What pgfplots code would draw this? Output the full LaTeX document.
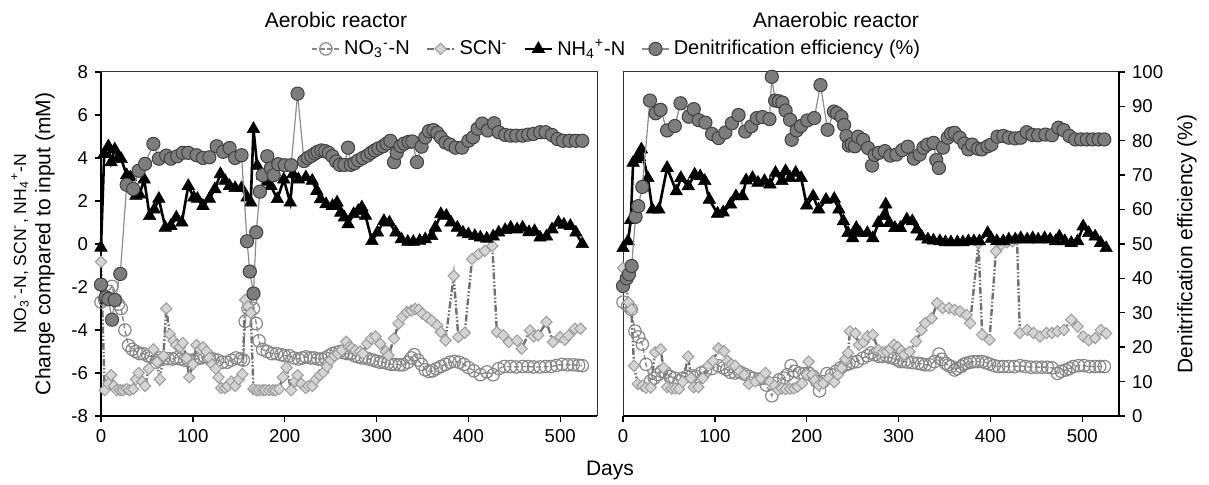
\documentclass[border=0pt]{standalone}
\usepackage{fontspec}
\setmainfont{Liberation Sans}
\usepackage{pgfplots}
\pgfplotsset{compat=1.18}

\definecolor{effill}{RGB}{125,125,125}
\definecolor{efline}{RGB}{140,140,140}
\definecolor{no3c}{RGB}{135,135,135}
\definecolor{scnfill}{RGB}{212,212,212}
\definecolor{scnedge}{RGB}{155,155,155}
\definecolor{scnline}{RGB}{112,112,112}

\pgfplotsset{
  panel/.style={
    scale only axis, width=248pt, height=172pt,
    xmin=0, xmax=540, anchor=north west, clip=false,
    xtick={0,100,...,500},
    tick align=outside, major tick length=3pt,
    tick style={black, line width=0.7pt},
    axis line style={line width=0.5pt, black!80},
    ticklabel style={font=\fontsize{9.3}{10}\selectfont},
    /pgf/number format/assume math mode=true,
  },
  no3/.style={no3c, line width=0.7pt, dash pattern=on 2.5pt off 1.2pt,
    mark=o, mark size=3.1pt, mark options={solid, draw=no3c, line width=0.6pt}},
  scn/.style={scnline, line width=1.2pt,
    dash pattern=on 3.5pt off 1pt on 0.8pt off 1pt on 0.8pt off 1pt,
    mark=square*, mark size=2pt,
    mark options={solid, rotate=45, fill=scnfill, draw=scnedge, line width=0.5pt}},
  nh4/.style={black, line width=1.3pt, mark=triangle*, mark size=3.6pt,
    mark options={solid, fill=black, line width=0.3pt}},
  eff/.style={efline, line width=0.6pt, mark=*, mark size=3.3pt,
    mark options={solid, fill=effill, draw=black!75, line width=0.5pt}},
}

\begin{document}
\begin{tikzpicture}
\path[use as bounding box] (0,0) rectangle (604.5pt,-242.5pt);

% ---------------- Aerobic reactor ----------------
\begin{axis}[panel, at={(50.5pt,-36pt)},
    ymin=-8, ymax=8, ytick={-8,-6,...,8},
    xtick pos=left, ytick pos=left]
\addplot[no3] coordinates {
(0,-2.7) (4,-2.6) (8,-2.2) (12,-1.97) (16,-2.6) (19,-2.8) (22,-3.0) (26,-4.0)
(30,-4.72) (34,-4.9) (38,-5.0) (42,-5.1) (46,-5.1) (51,-5.2) (55,-5.25) (60,-5.5)
(64,-5.3) (68,-5.35) (73,-5.33) (78,-5.35) (82,-5.3) (87,-5.35) (91,-5.4) (95,-5.4)
(100,-5.4) (104,-5.35) (109,-5.3) (113,-5.25) (118,-5.3) (122,-5.35) (127,-5.4)
(132,-5.5) (137,-5.5) (142,-5.4) (147,-5.3) (152,-5.35) (155,-5.4) (157,-3.6)
(160,-3.0) (163,-2.6) (166,-3.0) (169,-3.7) (172,-4.5) (176,-4.9) (181,-5.0)
(186,-5.1) (191,-5.1) (196,-5.15) (200,-5.2) (205,-5.2) (210,-5.3) (215,-5.35)
(219,-5.3) (223,-5.25) (228,-5.3) (232,-5.3) (236,-5.35) (240,-5.35) (244,-5.3)
(248,-5.2) (252,-5.1) (256,-5.05) (260,-5.0) (264,-5.05) (268,-5.1) (272,-5.1)
(276,-5.2) (280,-5.25) (284,-5.3) (288,-5.3) (292,-5.35) (296,-5.4) (300,-5.45)
(304,-5.5) (308,-5.5) (312,-5.55) (316,-5.6) (320,-5.6) (325,-5.62) (329,-5.62)
(334,-5.5) (338,-5.3) (341,-5.15) (345,-5.4) (349,-5.6) (353,-5.85) (357,-5.93)
(361,-5.9) (365,-5.8) (370,-5.7) (375,-5.6) (380,-5.5) (385,-5.46) (390,-5.5)
(395,-5.6) (400,-5.75) (406,-5.9) (413,-6.08) (420,-5.95) (427,-6.08) (433,-5.8)
(439,-5.7) (446,-5.7) (452,-5.72) (459,-5.7) (465,-5.7) (471,-5.72) (478,-5.72)
(484,-5.7) (490,-5.7) (496,-5.65) (502,-5.6) (508,-5.62) (514,-5.62) (520,-5.64)
(524,-5.66)
};
\addplot[scn] coordinates {
(0,-0.83) (4,-6.8) (8,-6.5) (11,-6.1) (14,-6.6) (17,-6.8) (21,-6.8) (24,-6.8)
(28,-6.75) (31,-6.8) (35,-6.75) (38,-6.3) (41,-6.0) (45,-6.4) (48,-6.6) (52,-5.8)
(57,-4.9) (61,-5.5) (64,-6.3) (68,-5.2) (71,-3.0) (75,-4.2) (79,-4.5) (82,-4.7)
(86,-4.8) (89,-4.6) (93,-5.3) (96,-6.2) (100,-5.6) (104,-4.7) (108,-4.9) (111,-4.8)
(115,-5.0) (118,-5.3) (121,-5.6) (125,-5.8) (128,-6.2) (131,-6.7) (135,-6.7)
(138,-6.6) (142,-6.4) (146,-6.6) (150,-6.3) (154,-6.05) (157,-2.6) (160,-2.9)
(163,-3.2) (166,-6.75) (169,-6.8) (172,-6.8) (176,-6.8) (179,-6.8) (183,-6.8)
(187,-6.8) (190,-6.8) (194,-6.75) (198,-6.2) (202,-5.75) (207,-6.8) (211,-6.4)
(214,-6.1) (218,-6.5) (223,-6.7) (226,-6.6) (230,-6.6) (234,-6.3) (238,-6.1)
(242,-5.97) (246,-5.7) (250,-5.4) (254,-5.2) (258,-5.1) (262,-4.95) (267,-4.55)
(270,-4.8) (273,-4.85) (277,-4.95) (282,-5.0) (285,-5.1) (290,-4.64) (294,-4.4)
(299,-4.3) (304,-4.64) (310,-5.0) (313,-5.18) (319,-4.4) (324,-3.7) (328,-3.4)
(333,-3.17) (338,-3.1) (342,-3.02) (346,-3.05) (350,-3.25) (355,-3.4) (360,-3.56)
(366,-3.79) (370,-4.1) (375,-4.49) (384,-1.48) (389,-4.33) (396,-4.13) (404,-0.7)
(411,-0.47) (418,-0.32) (426,-0.09) (431,-4.1) (438,-4.25) (444,-4.56) (453,-4.49)
(458,-4.87) (467,-4.02) (471,-4.3) (476,-4.25) (485,-3.63) (492,-4.56) (500,-4.33)
(505,-4.45) (509,-4.25) (516,-3.94) (522,-3.94)
};
\addplot[nh4] coordinates {
(0,-0.17) (3.5,4.19) (8,4.54) (11,3.8) (15,4.4) (19,4.03) (22,3.95) (28,3.2)
(32,3.1) (38,2.24) (42,2.3) (47,3.0) (53,1.3) (58,1.6) (63,2.1) (70,0.76) (76,0.84)
(82,1.23) (88,1.0) (95,2.7) (101,2.16) (105,2.1) (111,1.77) (118,2.1) (124,2.55)
(130,3.25) (135,2.94) (140,2.7) (146,2.6) (153,2.6) (159,2.16) (163,1.93)
(166,5.35) (170,3.64) (176,3.17) (181,2.9) (185,2.7) (192,2.09) (199,3.0)
(206,1.93) (209,3.25) (215,3.0) (223,3.1) (230,2.94) (235,2.47) (239,2.08)
(245,1.85) (252,1.77) (257,1.93) (261,1.46) (265,1.23) (269,0.92) (275,1.39)
(280,1.54) (284,1.7) (288,1.31) (295,0.14) (301,0.53) (308,1.07) (314,1.0)
(321,0.53) (327,0.22) (334,0.1) (340,0.1) (347,0.15) (353,0.22) (360,0.37)
(364,0.76) (370,1.39) (376,1.31) (381,1.0) (388,0.76) (394,0.53) (400,0.45)
(407,0.37) (413,0.3) (420,0.25) (427,0.35) (433,0.53) (440,0.65) (446,0.76)
(453,0.68) (459,0.76) (466,0.55) (472,0.6) (478,0.3) (485,0.35) (491,0.68)
(498,1.0) (504,0.9) (511,0.84) (517,0.53) (524,0.0)
};
\draw[line width=1.2pt] (rel axis cs:0,1) -- (rel axis cs:0,0) -- (rel axis cs:1,0);
\end{axis}

\begin{axis}[panel, at={(50.5pt,-36pt)}, hide axis, ymin=0, ymax=100,
    legend columns=4,
    legend style={draw=none, fill=none, at={(1.042,1.067)}, anchor=center,
      font=\fontsize{10}{12}\selectfont,
      /tikz/every even column/.append style={column sep=6pt}},
    legend image code/.code={\draw[mark repeat=2, mark phase=2, #1]
      plot coordinates {(0cm,0cm) (0.24cm,0cm) (0.48cm,0cm)};}]
\addlegendimage{no3}
\addlegendimage{scn}
\addlegendimage{nh4}
\addplot[eff] coordinates {
(0,38.2) (5,34.5) (8,34.0) (12,28.0) (15,33.7) (21,41.3) (28,67.2) (35,66.0)
(41,71.3) (48,73.3) (57,79.1) (63,74.8) (71,75.7) (76,74.8) (83,75.5) (89,76.5)
(95,76.5) (104,75.8) (111,75.0) (118,75.2) (126,78.4) (133,76.8) (140,77.9)
(146,75.0) (153,75.8) (159,50.8) (162,42.0) (166,35.6) (169,53.4) (173,65.2)
(176,70.0) (181,75.5) (185,72.0) (188,70.0) (193,73.2) (200,72.9) (207,72.9)
(214,93.7) (221,74.1) (225,75.0) (229,75.6) (233,76.3) (236,76.8) (240,77.2)
(244,77.0) (248,76.5) (252,75.5) (256,74.0) (260,73.0) (265,73.0) (269,78.0)
(272,73.0) (276,73.5) (280,74.3) (285,75.0) (290,75.7) (294,76.5) (298,77.2)
(302,77.8) (307,78.4) (311,79.2) (315,80.0) (319,73.8) (322,76.5) (326,78.5)
(330,79.2) (335,79.7) (339,79.8) (344,73.8) (349,78.3) (353,81.0) (357,82.8)
(362,83.1) (366,82.3) (370,81.0) (375,79.5) (380,78.9) (386,78.0) (393,78.0)
(400,80.0) (405,81.0) (410,83.5) (415,85.0) (421,83.0) (428,85.1) (433,82.5)
(440,81.7) (446,81.5) (452,81.5) (459,81.5) (465,81.8) (471,82.0) (478,82.5)
(484,82.5) (491,81.7) (497,80.5) (503,80.0) (510,80.0) (517,80.0) (524,80.0)
};
\legend{NO\textsubscript{3}\textsuperscript{-}-N, SCN\textsuperscript{-},
  NH\textsubscript{4}\textsuperscript{+}-N, Denitrification efficiency (\%)}
\end{axis}

% ---------------- Anaerobic reactor ----------------
\begin{axis}[panel, at={(311.5pt,-36pt)},
    ymin=-8, ymax=8, ytick=\empty, xtick pos=left]
\addplot[no3] coordinates {
(0,-2.7) (5,-2.88) (9,-3.04) (13,-4.05) (17,-4.32) (21,-4.66) (25,-5.6) (30,-6.37)
(34,-6.24) (38,-6.08) (42,-5.92) (46,-5.97) (51,-6.16) (56,-6.24) (61,-6.37)
(65,-6.24) (70,-6.16) (75,-6.13) (80,-6.16) (85,-6.0) (90,-5.9) (97,-5.79)
(104,-5.66) (109,-5.76) (113,-5.84) (117,-5.97) (122,-6.0) (127,-5.95) (132,-6.05)
(137,-6.16) (142,-6.24) (148,-6.29) (152,-6.24) (156,-6.56) (162,-7.06) (166,-6.48)
(170,-6.32) (175,-6.24) (179,-6.08) (183,-5.66) (187,-5.92) (192,-6.0) (197,-6.03)
(202,-6.0) (207,-6.16) (211,-6.4) (214,-6.83) (218,-6.4) (222,-6.03) (227,-6.08)
(232,-5.92) (237,-5.76) (242,-5.63) (246,-5.57) (250,-5.5) (255,-5.47) (261,-5.31)
(266,-5.2) (270,-5.07) (274,-5.15) (279,-5.23) (283,-5.23) (287,-5.23) (291,-5.28)
(295,-5.31) (299,-5.39) (302,-5.47) (306,-5.47) (310,-5.49) (315,-5.52) (321,-5.55)
(325,-5.58) (329,-5.62) (334,-5.62) (339,-5.47) (344,-5.12) (347,-5.36) (351,-5.55)
(354,-5.63) (357,-5.7) (361,-5.86) (364,-5.79) (368,-5.7) (371,-5.6) (374,-5.55)
(378,-5.5) (382,-5.47) (386,-5.47) (391,-5.47) (395,-5.52) (399,-5.58) (404,-5.66)
(409,-5.7) (414,-5.7) (420,-5.7) (426,-5.7) (432,-5.66) (438,-5.7) (444,-5.73)
(450,-5.73) (456,-5.73) (462,-5.73) (467,-5.76) (473,-6.02) (477,-5.92) (482,-5.86)
(486,-5.79) (490,-5.7) (496,-5.66) (502,-5.66) (508,-5.7) (514,-5.7) (519,-5.7)
(524,-5.7)
};
\addplot[scn] coordinates {
(0,-1.12) (3,-1.6) (6,-2.72) (9,-3.04) (12,-5.66) (16,-6.51) (21,-6.59) (25,-6.69)
(30,-6.67) (35,-5.04) (41,-4.9) (44,-5.76) (48,-6.66) (53,-6.72) (57,-6.72)
(61,-6.74) (65,-6.4) (71,-5.23) (74,-6.24) (77,-6.66) (82,-6.66) (87,-6.24)
(93,-5.66) (98,-5.44) (104,-4.85) (110,-4.99) (114,-5.44) (118,-5.6) (122,-5.66)
(127,-5.92) (132,-6.08) (137,-6.51) (144,-6.4) (150,-6.24) (155,-6.0) (160,-6.4)
(165,-6.59) (169,-6.8) (173,-6.72) (177,-6.75) (182,-6.74) (186,-6.72) (190,-6.64)
(195,-6.48) (200,-6.08) (202,-5.47) (206,-6.08) (209,-6.34) (213,-6.56) (218,-6.48)
(224,-6.24) (230,-6.43) (234,-6.08) (238,-5.76) (242,-5.36) (245,-5.07) (247,-4.06)
(253,-4.16) (257,-4.69) (262,-4.56) (266,-4.3) (272,-4.22) (278,-4.93) (283,-5.04)
(287,-5.01) (291,-4.88) (295,-4.69) (299,-4.8) (303,-4.96) (306,-5.15) (312,-5.01)
(319,-4.53) (325,-4.0) (329,-3.68) (336,-3.46) (342,-2.75) (348,-2.98) (355,-2.98)
(361,-3.06) (367,-3.14) (374,-3.3) (378,-3.68) (387,0.05) (391,-4.22) (399,-4.46)
(406,-0.34) (412,-0.03) (418,0.08) (424,0.13) (429,0.21) (432,-4.14) (440,-4.0)
(447,-4.14) (454,-4.3) (461,-4.14) (467,-4.14) (473,-4.06) (480,-4.0) (488,-3.52)
(495,-3.84) (501,-4.3) (507,-4.48) (514,-4.38) (520,-4.0) (526,-4.16)
};
\addplot[nh4] coordinates {
(0,-0.19) (5.5,0.13) (8.5,1.12) (11,3.78) (14,3.94) (18,4.05) (20,4.4) (27,3.07)
(32,1.6) (39,1.6) (48,3.54) (58,2.45) (63,3.07) (71,2.69) (78,3.23) (84,3.15)
(89,2.93) (94,2.06) (103,1.41) (109,1.47) (117,1.84) (123,2.22) (130,2.22)
(134,2.96) (141,3.07) (147,2.85) (154,2.93) (160,2.77) (166,3.31) (173,2.93)
(177,3.39) (182,3.07) (188,3.31) (194,3.07) (200,1.79) (207,2.22) (213,1.6)
(221,2.06) (230,2.1) (235,1.6) (240,1.06) (245,0.51) (250,0.27) (254,0.75)
(258,0.51) (266,0.51) (272,0.27) (278,0.98) (284,1.3) (286,1.84) (290,0.98)
(296,0.75) (302,0.75) (309,1.14) (315,1.06) (320,0.67) (325,0.35) (332,0.21)
(338,0.16) (345,0.13) (351,0.08) (357,0.08) (364,0.08) (370,0.08) (376,0.13)
(382,0.13) (388,0.13) (397,0.51) (401,0.24) (407,0.13) (414,0.13) (420,0.21)
(427,0.21) (433,0.27) (440,0.21) (446,0.27) (452,0.21) (459,0.27) (465,0.21)
(471,0.13) (475,0.35) (481,0.13) (488,0.05) (495,0.13) (501,0.82) (507,0.51)
(514,0.35) (520,0.05) (526,-0.19)
};
\draw[line width=1.2pt] (rel axis cs:0,0) -- (rel axis cs:1,0);
\end{axis}

\begin{axis}[panel, at={(311.5pt,-36pt)}, ymin=0, ymax=100,
    axis x line=none, axis y line*=right, ytick={0,10,...,100},
    ytick pos=right, axis line style={line width=1.2pt, black}]
\addplot[eff] coordinates {
(0,37.8) (4,40) (6.5,41.2) (9.4,43.6) (13.7,57.9) (16.6,61) (21,66.6) (29.3,91.7)
(35.5,88) (40.9,89) (48,83) (56.4,84.3) (62.6,90.9) (71.6,87) (77,89.2) (82.4,86)
(89.7,85.3) (96.9,82) (104,80.8) (111.4,82.4) (118.6,85.1) (125.8,87.5) (133,82.7)
(139.6,84.2) (145.7,86.6) (151.8,86.9) (159.4,86.3) (162,98.6) (165.6,91.7)
(169.5,91.5) (173.5,91.1) (177,88.8) (181.9,86.1) (183.6,80.3) (189,83)
(193.8,84.3) (200.6,85.9) (208.2,86.6) (215,96.2) (222.7,83.2) (229.6,88.5)
(233,88) (237.8,87) (240.7,84.6) (243.3,81.4) (245.9,78.6) (249,79) (252.4,78.4)
(256,81.2) (261.4,80.3) (266.8,77.9) (271.1,72.8) (274,75.9) (278.6,76.5) (285,77)
(291,75.7) (297.6,76) (304,77.3) (310,78.3) (316.7,74.8) (323,76) (327,78)
(331.5,78.9) (338,79.4) (341,74.4) (344,72.1) (348.4,78) (353.5,80.9) (357,82.1)
(361,82.3) (366.6,80.9) (371.7,79.2) (376,77.5) (380,78.9) (386.5,77.7)
(390.8,77.5) (397,78.4) (401,78.9) (407.7,81.2) (414,81.4) (420,80.9) (426.8,80.7)
(433,80.9) (439.5,82.5) (445.8,81.7) (452,81.6) (459.8,81.8) (467,81.6) (474,83.8)
(479.7,83.1) (486,81.4) (492.4,80.4) (498.7,80.4) (505,80.4) (511.4,80.4)
(517.8,80.4) (524,80.4)
};
\end{axis}

% ---------------- labels ----------------
\node[anchor=base, font=\fontsize{10.5}{12}\selectfont] at (168pt,-13.7pt) {Aerobic reactor};
\node[anchor=base, font=\fontsize{10.5}{12}\selectfont] at (418pt,-13.7pt) {Anaerobic reactor};
\node[anchor=base, font=\fontsize{10.5}{12}\selectfont] at (305pt,-238pt) {Days};
\node[rotate=90, font=\fontsize{10.5}{12}\selectfont] at (22.5pt,-122pt) {Change compared to input (mM)};
\node[rotate=90, font=\fontsize{8.8}{10}\selectfont] at (10pt,-122pt)
  {NO\textsubscript{3}\textsuperscript{-}-N, SCN\textsuperscript{-}, NH\textsubscript{4}\textsuperscript{+}-N};
\node[rotate=90, font=\fontsize{10.5}{12}\selectfont] at (593.5pt,-122pt) {Denitrification efficiency (\%)};
\end{tikzpicture}
\end{document}
